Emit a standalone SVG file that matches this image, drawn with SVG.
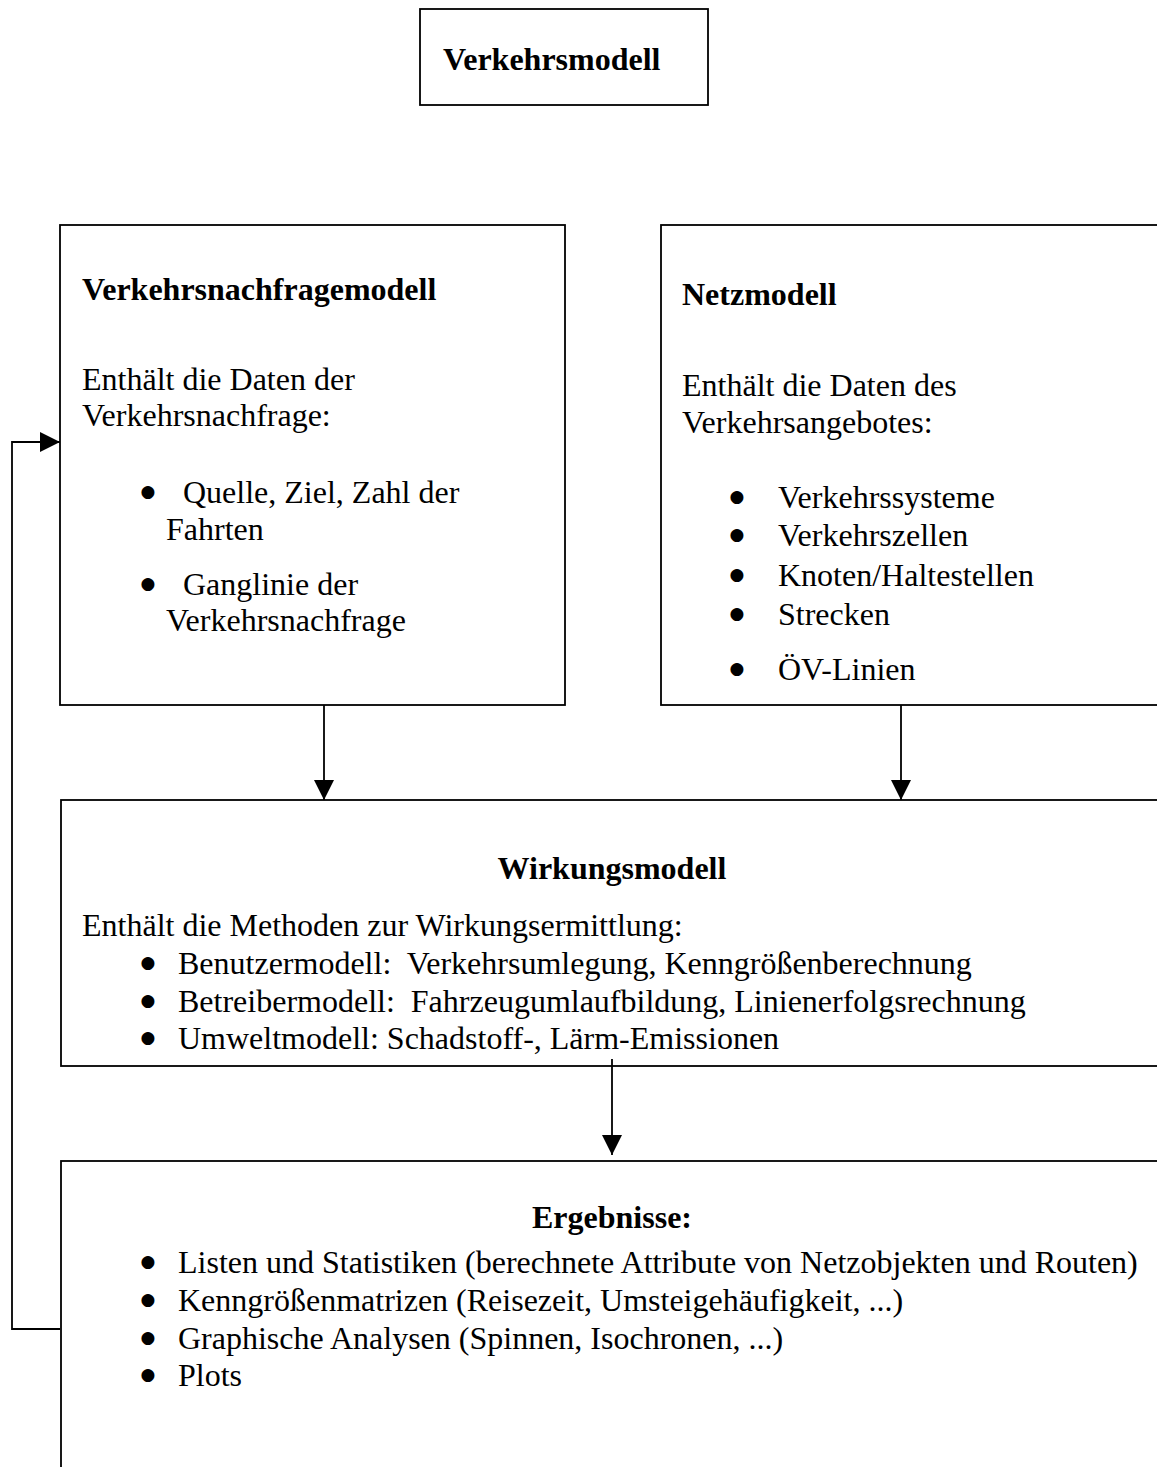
<svg xmlns="http://www.w3.org/2000/svg" width="1157" height="1467" viewBox="0 0 1157 1467">
<style>
.box{fill:#fff;stroke:#000;stroke-width:1.8}
.t{font-family:"Liberation Serif","Times New Roman",serif;font-size:32px;fill:#000}
.b{font-weight:bold}
.c{text-anchor:middle}
.bu{font-family:"DejaVu Sans",sans-serif;font-size:17px;fill:#000;text-anchor:middle}
.ln{fill:none;stroke:#000;stroke-width:1.8}
</style>
<defs>
<marker id="ah" markerUnits="userSpaceOnUse" markerWidth="20" markerHeight="20" viewBox="0 0 20 20" refX="20" refY="10" orient="auto">
<path d="M0,0 L20,10 L0,20 z" fill="#000"/>
</marker>
</defs>
<rect width="1157" height="1467" fill="#fff"/>
<g id="verkehrsmodell">
<rect class="box" x="420" y="9" width="288" height="96"/>
<text class="t b" x="443" y="70">Verkehrsmodell</text>
</g>
<g id="nachfragemodell">
<rect class="box" x="60" y="225" width="505" height="480"/>
<text class="t b" x="82" y="300">Verkehrsnachfragemodell</text>
<text class="t" x="82" y="390">Enthält die Daten der</text>
<text class="t" x="82" y="426">Verkehrsnachfrage:</text>
<text class="bu" x="148" y="497">●</text>
<text class="t" x="183" y="503">Quelle, Ziel, Zahl der</text>
<text class="t" x="166" y="540">Fahrten</text>
<text class="bu" x="148" y="589">●</text>
<text class="t" x="183" y="595">Ganglinie der</text>
<text class="t" x="166" y="631">Verkehrsnachfrage</text>
</g>
<g id="netzmodell">
<rect class="box" x="661" y="225" width="520" height="480"/>
<text class="t b" x="682" y="305">Netzmodell</text>
<text class="t" x="682" y="396">Enthält die Daten des</text>
<text class="t" x="682" y="433">Verkehrsangebotes:</text>
<text class="bu" x="737" y="502">●</text>
<text class="t" x="778" y="508">Verkehrssysteme</text>
<text class="bu" x="737" y="540">●</text>
<text class="t" x="778" y="546">Verkehrszellen</text>
<text class="bu" x="737" y="580">●</text>
<text class="t" x="778" y="586">Knoten/Haltestellen</text>
<text class="bu" x="737" y="619">●</text>
<text class="t" x="778" y="625">Strecken</text>
<text class="bu" x="737" y="674">●</text>
<text class="t" x="778" y="680">ÖV-Linien</text>
</g>
<g id="wirkungsmodell">
<rect class="box" x="61" y="800" width="1120" height="266"/>
<text class="t b c" x="612" y="879">Wirkungsmodell</text>
<text class="t" x="82" y="936">Enthält die Methoden zur Wirkungsermittlung:</text>
<text class="bu" x="148" y="968">●</text>
<text class="t" x="178" y="974">Benutzermodell:&#160; Verkehrsumlegung, Kenngrößenberechnung</text>
<text class="bu" x="148" y="1006">●</text>
<text class="t" x="178" y="1012">Betreibermodell:&#160; Fahrzeugumlaufbildung, Linienerfolgsrechnung</text>
<text class="bu" x="148" y="1043">●</text>
<text class="t" x="178" y="1049">Umweltmodell: Schadstoff-, Lärm-Emissionen</text>
</g>
<g id="ergebnisse">
<rect class="box" x="61" y="1161" width="1120" height="330"/>
<text class="t b c" x="612" y="1228">Ergebnisse:</text>
<text class="bu" x="148" y="1267">●</text>
<text class="t" x="178" y="1273">Listen und Statistiken (berechnete Attribute von Netzobjekten und Routen)</text>
<text class="bu" x="148" y="1305">●</text>
<text class="t" x="178" y="1311">Kenngrößenmatrizen (Reisezeit, Umsteigehäufigkeit, ...)</text>
<text class="bu" x="148" y="1343">●</text>
<text class="t" x="178" y="1349">Graphische Analysen (Spinnen, Isochronen, ...)</text>
<text class="bu" x="148" y="1380">●</text>
<text class="t" x="178" y="1386">Plots</text>
</g>
<g id="connectors">
<line class="ln" x1="324" y1="705" x2="324" y2="800" marker-end="url(#ah)"/>
<line class="ln" x1="901" y1="705" x2="901" y2="800" marker-end="url(#ah)"/>
<line class="ln" x1="612" y1="1059" x2="612" y2="1155" marker-end="url(#ah)"/>
<polyline class="ln" points="60,1329 12,1329 12,442 60,442" marker-end="url(#ah)"/>
</g>
</svg>
